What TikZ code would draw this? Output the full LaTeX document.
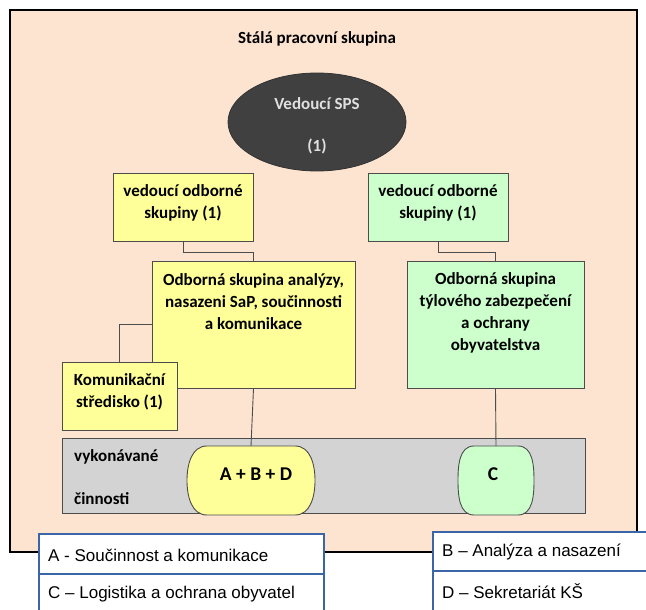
\documentclass[tikz,border=0pt]{standalone}
\usepackage{fontspec}
\setmainfont{Carlito}
\newfontfamily\legfont{Liberation Sans}
\usetikzlibrary{calc,shapes.geometric}
\definecolor{peach}{HTML}{FCE4D0}
\definecolor{yel}{HTML}{FFFF99}
\definecolor{grn}{HTML}{CCFFCC}
\definecolor{gry}{HTML}{D3D3D3}
\definecolor{dark}{HTML}{404040}
\definecolor{legblue}{HTML}{3A66A8}
\tikzset{
  box/.style={draw=black!70, line width=0.9pt, inner sep=0pt},
  yelbox/.style={box, fill=yel},
  grnbox/.style={box, fill=grn},
  lbl/.style={font=\bfseries\fontsize{17}{22}\selectfont, align=center, inner sep=0pt},
  conn/.style={draw=black!70, line width=0.9pt},
  pill/.style={draw=black!70, line width=0.9pt},
  legbox/.style={draw=legblue, line width=1.6pt, fill=white},
  legtxt/.style={font=\legfont\fontsize{17}{18}\selectfont, anchor=west, inner sep=0pt}
}
\begin{document}
\begin{tikzpicture}[x=1pt,y=-1pt]
\useasboundingbox (0,0) rectangle (646,610);
% outer frame
\draw[fill=peach, line width=1.3pt] (10,10) rectangle (637,552);
\node[lbl] (title) at (317,39) {Stálá pracovní skupina};
% leader ellipse
\node[ellipse, draw=black!80, line width=0.8pt, fill=dark, minimum width=178pt, minimum height=98pt, inner sep=0pt] (ell) at (317,122) {};
\node[lbl, text=white!88!black] (ellt1) at (317,104) {Vedoucí SPS};
\node[lbl, text=white!88!black] (ellt2) at (317,146) {(1)};
% group leaders
\node[yelbox, minimum width=140pt, minimum height=68pt] (lb1) at (183,207) {};
\node[lbl] (lb1t) at (183,203) {vedoucí odborné\\skupiny (1)};
\node[grnbox, minimum width=140pt, minimum height=68pt] (rb1) at (438,207) {};
\node[lbl] (rb1t) at (438,203) {vedoucí odborné\\skupiny (1)};
% big groups
\node[yelbox, minimum width=203pt, minimum height=127pt] (lbig) at (253.5,324.5) {};
\node[lbl] (lbigt) at (253.5,302) {Odborná skupina analýzy,\\nasazeni SaP, součinnosti\\a komunikace};
\node[grnbox, minimum width=177pt, minimum height=127pt] (rbig) at (495.5,324.5) {};
\node[lbl] (rbigt) at (495.5,313) {Odborná skupina\\týlového zabezpečení\\a ochrany\\obyvatelstva};
% connectors between boxes
\draw[conn] (lb1.south) |- (183,252) -| (lbig.north);
\draw[conn] (rb1.south) |- (438,252) -| (rbig.north);
% communication centre
\node[yelbox, minimum width=115pt, minimum height=68pt] (kom) at (119.5,396) {};
\node[lbl] (komt) at (119.5,392) {Komunikační\\středisko (1)};
\draw[conn] (kom.north) |- (lbig.west);
% activities band
\draw[draw=black!70, line width=0.9pt, fill=gry] (62,438) rectangle (585,513);
\node[lbl, anchor=west] (vyk) at (74,457) {vykonávané};
\node[lbl, anchor=west] (cin) at (74,499) {činnosti};
% pills
\coordinate (p1top) at (251,446);
\coordinate (p2top) at (496,446);
\draw[pill, fill=yel] (207,446) -- (295,446) to[out=0,in=90] (315,480.5) to[out=-90,in=0] (295,515) -- (207,515) to[out=180,in=-90] (187,480.5) to[out=90,in=180] cycle;
\draw[pill, fill=grn] (474,446) -- (518,446) to[out=0,in=90] (534,480.5) to[out=-90,in=0] (518,515) -- (474,515) to[out=180,in=-90] (458,480.5) to[out=90,in=180] cycle;
\node[lbl, font=\bfseries\fontsize{19.5}{22}\selectfont] (p1t) at (256,474) {A + B + D};
\node[lbl, font=\bfseries\fontsize{19.5}{22}\selectfont] (p2t) at (493,474) {C};
\draw[conn] (lbig.south) -- (p1top);
\draw[conn] (rbig.south) -- (p2top);
% legends
\draw[legbox] (39,534) rectangle (324,625);
\draw[legblue, line width=1.6pt] (39,574) -- (324,574);
\draw[legbox] (433,532) rectangle (660,625);
\draw[legblue, line width=1.6pt] (433,571) -- (660,571);
\node[legtxt] (la) at (48,555) {A - Součinnost a komunikace};
\node[legtxt] (lc) at (48,594) {C – Logistika a ochrana obyvatel};
\node[legtxt] (lb) at (442,552) {B – Analýza a nasazení};
\node[legtxt] (ld) at (442,591) {D – Sekretariát KŠ};
\end{tikzpicture}
\end{document}
